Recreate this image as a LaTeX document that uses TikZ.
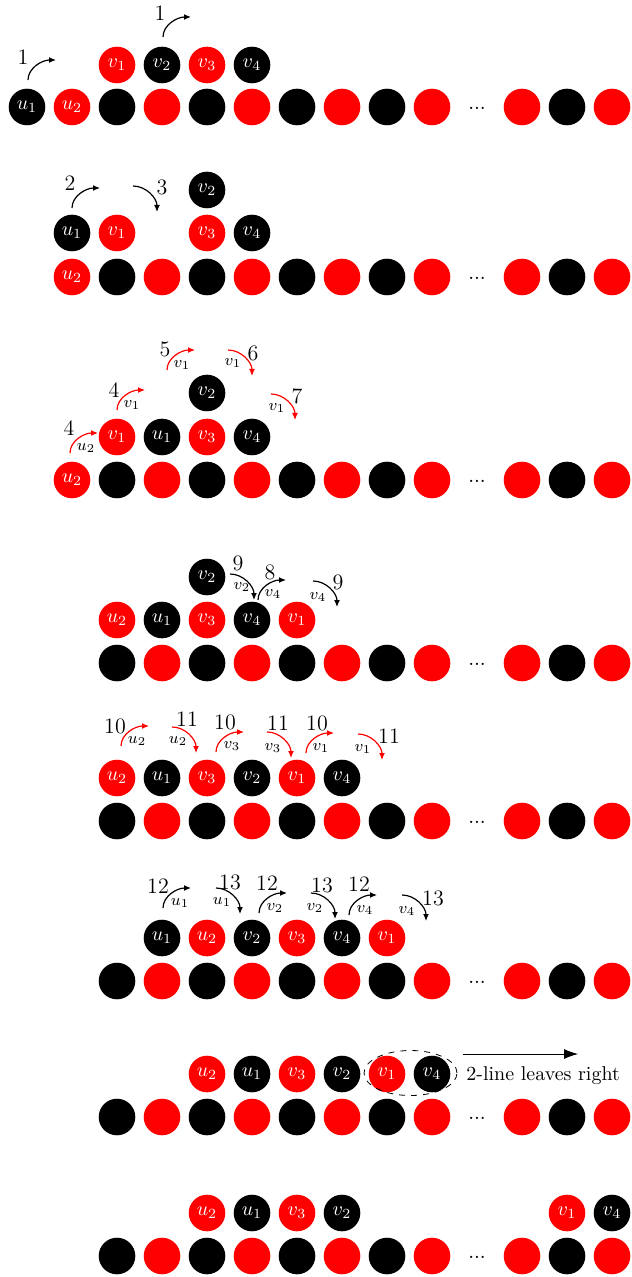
\documentclass[tikz,border=0pt]{standalone}
\usetikzlibrary{arrows.meta,calc,shapes.geometric}
\tikzset{
 base/.style={circle, minimum size=18.3pt, inner sep=0pt, text=white, font=\fontsize{10}{12}\selectfont},
 rc/.style={base, fill=red},
 bc/.style={base, fill=black},
 dotsn/.style={inner sep=0pt, font=\fontsize{10.5}{12}\selectfont},
 num/.style={inner sep=0pt, font=\fontsize{11}{13}\selectfont},
 sublbl/.style={inner sep=0pt, font=\fontsize{8.5}{10}\selectfont},
 bentarrow/.style={line width=0.6pt, -{Latex[length=3.5pt,width=3pt]}},
}
\newcommand{\cn}[5]{\node[#1] (#2) at ({27+45*#3},#4) {#5};}
\newcommand{\bottomrow}[3]{%
 \foreach \k in {#3,...,13}{%
  \ifnum\k=10 \node[dotsn] (#1b\k) at ({27+45*\k},#2+1) {...};%
  \else\ifodd\k \node[rc] (#1b\k) at ({27+45*\k},#2) {};%
  \else \node[bc] (#1b\k) at ({27+45*\k},#2) {};\fi\fi
 }%
}
\newcommand{\UR}[4]{%
 \coordinate (#1s) at (#2,#3);
 \coordinate (#1e) at ($(#1s)+(28,-20)$);
 \draw[bentarrow,#4] (#1s) .. controls ($(#1s)+(0,-12)$) and ($(#1e)+(-14,0)$) .. (#1e);
}
\newcommand{\DR}[4]{%
 \coordinate (#1s) at (#2,#3);
 \coordinate (#1e) at ($(#1s)+(24,26)$);
 \draw[bentarrow,#4] (#1s) .. controls ($(#1s)+(13,0)$) and ($(#1e)+(0,-14)$) .. (#1e);
}
\begin{document}
\begin{tikzpicture}[x=0.5pt,y=-0.5pt]
\useasboundingbox (0,0) rectangle (631,1277);
% ---------- row 1
\cn{bc}{au1}{0}{107}{$u_1$}
\cn{rc}{au2}{1}{107}{$u_2$}
\bottomrow{a}{107}{2}
\cn{rc}{av1}{2}{65}{$v_1$}
\cn{bc}{av2}{3}{65}{$v_2$}
\cn{rc}{av3}{4}{65}{$v_3$}
\cn{bc}{av4}{5}{65}{$v_4$}
\UR{aA}{28}{80}{black}
\node[num] (aAl) at (23,57) {1};
\UR{aB}{163}{37}{black}
\node[num] (aBl) at (160,13) {1};
% ---------- row 2
\cn{rc}{bu2}{1}{277}{$u_2$}
\bottomrow{b}{277}{2}
\cn{bc}{bu1}{1}{233}{$u_1$}
\cn{rc}{bv1}{2}{233}{$v_1$}
\cn{rc}{bv3}{4}{233}{$v_3$}
\cn{bc}{bv4}{5}{233}{$v_4$}
\cn{bc}{bv2}{4}{190}{$v_2$}
\UR{bA}{72}{208}{black}
\node[num] (bAl) at (70,183) {2};
\DR{bB}{133}{186}{black}
\node[num] (bBl) at (162,187) {3};
% ---------- row 3
\cn{rc}{cu2}{1}{480}{$u_2$}
\bottomrow{c}{480}{2}
\cn{rc}{cv1}{2}{437}{$v_1$}
\cn{bc}{cu1}{3}{437}{$u_1$}
\cn{rc}{cv3}{4}{437}{$v_3$}
\cn{bc}{cv4}{5}{437}{$v_4$}
\cn{bc}{cv2}{4}{393}{$v_2$}
\UR{cA}{70}{453}{red}
\node[num] (cAl) at (69,428) {4};
\node[sublbl] (cAs) at (86,448) {$u_2$};
\UR{cB}{117}{410}{red}
\node[num] (cBl) at (114,390) {4};
\node[sublbl] (cBs) at (132,405) {$v_1$};
\UR{cC}{167}{370}{red}
\node[num] (cCl) at (165,349) {5};
\node[sublbl] (cCs) at (182,365) {$v_1$};
\DR{cD}{228}{350}{red}
\node[num] (cDl) at (253,353) {6};
\node[sublbl] (cDs) at (233,363) {$v_1$};
\DR{cE}{271}{394}{red}
\node[num] (cEl) at (297,396) {7};
\node[sublbl] (cEs) at (277,408) {$v_1$};
% ---------- row 4
\bottomrow{d}{663}{2}
\cn{rc}{du2}{2}{620}{$u_2$}
\cn{bc}{du1}{3}{620}{$u_1$}
\cn{rc}{dv3}{4}{620}{$v_3$}
\cn{bc}{dv4}{5}{620}{$v_4$}
\cn{rc}{dv1}{6}{620}{$v_1$}
\cn{bc}{dv2}{4}{577}{$v_2$}
\DR{dA}{230}{574}{black}
\node[num] (dAl) at (238,563) {9};
\node[sublbl] (dAs) at (242,587) {$v_2$};
\UR{dB}{258}{600}{black}
\node[num] (dBl) at (270,572) {8};
\node[sublbl] (dBs) at (273,594) {$v_4$};
\DR{dC}{313}{581}{black}
\node[num] (dCl) at (338,582) {9};
\node[sublbl] (dCs) at (318,597) {$v_4$};
% ---------- row 5
\bottomrow{e}{821}{2}
\cn{rc}{eu2}{2}{778}{$u_2$}
\cn{bc}{eu1}{3}{778}{$u_1$}
\cn{rc}{ev3}{4}{778}{$v_3$}
\cn{bc}{ev2}{5}{778}{$v_2$}
\cn{rc}{ev1}{6}{778}{$v_1$}
\cn{bc}{ev4}{7}{778}{$v_4$}
\UR{eA}{121}{746}{red}
\node[num] (eAl) at (115,726) {10};
\node[sublbl] (eAs) at (137,741) {$u_2$};
\DR{eB}{172}{727}{red}
\node[num] (eBl) at (187,719) {11};
\node[sublbl] (eBs) at (178,741) {$u_2$};
\UR{eC}{216}{752}{red}
\node[num] (eCl) at (225,722) {10};
\node[sublbl] (eCs) at (232,746) {$v_3$};
\DR{eD}{267}{732}{red}
\node[num] (eDl) at (278,723) {11};
\node[sublbl] (eDs) at (273,748) {$v_3$};
\UR{eE}{306}{753}{red}
\node[num] (eEl) at (317,723) {10};
\node[sublbl] (eEs) at (321,748) {$v_1$};
\DR{eF}{358}{734}{red}
\node[num] (eFl) at (389,736) {11};
\node[sublbl] (eFs) at (363,749) {$v_1$};
% ---------- row 6
\bottomrow{f}{981}{2}
\cn{bc}{fu1}{3}{938}{$u_1$}
\cn{rc}{fu2}{4}{938}{$u_2$}
\cn{bc}{fv2}{5}{938}{$v_2$}
\cn{rc}{fv3}{6}{938}{$v_3$}
\cn{bc}{fv4}{7}{938}{$v_4$}
\cn{rc}{fv1}{8}{938}{$v_1$}
\UR{fA}{163}{908}{black}
\node[num] (fAl) at (158,886) {12};
\node[sublbl] (fAs) at (180,903) {$u_1$};
\DR{fB}{216}{888}{black}
\node[num] (fBl) at (230,882) {13};
\node[sublbl] (fBs) at (222,902) {$u_1$};
\UR{fC}{259}{913}{black}
\node[num] (fCl) at (267,883) {12};
\node[sublbl] (fCs) at (275,908) {$v_2$};
\DR{fD}{311}{893}{black}
\node[num] (fDl) at (322,885) {13};
\node[sublbl] (fDs) at (315,908) {$v_2$};
\UR{fE}{349}{915}{black}
\node[num] (fEl) at (359,884) {12};
\node[sublbl] (fEs) at (365,910) {$v_4$};
\DR{fF}{402}{895}{black}
\node[num] (fFl) at (433,898) {13};
\node[sublbl] (fFs) at (407,911) {$v_4$};
% ---------- row 7
\bottomrow{g}{1117}{2}
\cn{rc}{gu2}{4}{1074}{$u_2$}
\cn{bc}{gu1}{5}{1074}{$u_1$}
\cn{rc}{gv3}{6}{1074}{$v_3$}
\cn{bc}{gv2}{7}{1074}{$v_2$}
\cn{rc}{gv1}{8}{1074}{$v_1$}
\cn{bc}{gv4}{9}{1074}{$v_4$}
\node[ellipse, draw, dashed, line width=0.4pt, minimum width=46.5pt, minimum height=22.5pt, inner sep=0pt] (grp) at (410.5,1073) {};
\coordinate (gArrS) at (463,1054);
\coordinate (gArrE) at (578,1054);
\draw[line width=0.4pt, -{Latex[length=7pt,width=5pt]}] (gArrS) -- (gArrE);
\node[anchor=west, inner sep=0pt, font=\fontsize{10}{12}\selectfont] (gtxt) at (466,1076) {2-line leaves right};
% ---------- row 8
\bottomrow{h}{1256}{2}
\cn{rc}{hu2}{4}{1213}{$u_2$}
\cn{bc}{hu1}{5}{1213}{$u_1$}
\cn{rc}{hv3}{6}{1213}{$v_3$}
\cn{bc}{hv2}{7}{1213}{$v_2$}
\cn{rc}{hv1}{12}{1213}{$v_1$}
\cn{bc}{hv4}{13}{1213}{$v_4$}
\end{tikzpicture}
\end{document}
